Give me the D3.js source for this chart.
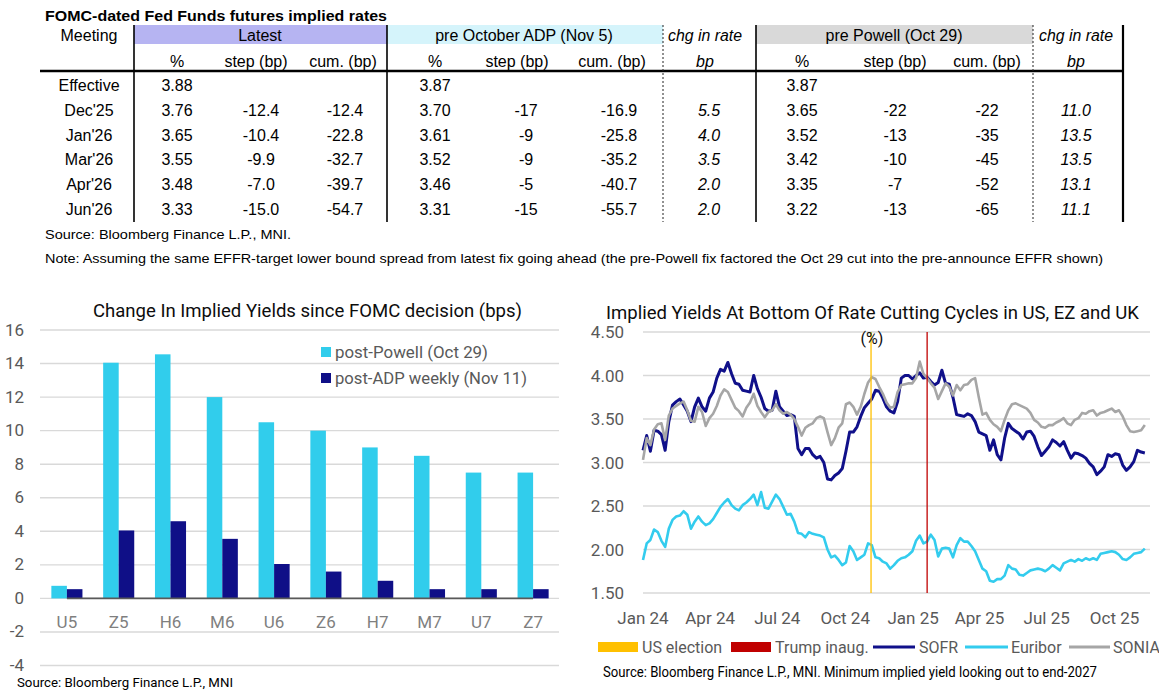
<!DOCTYPE html>
<html><head><meta charset="utf-8">
<script src="https://cdn.jsdelivr.net/npm/d3@7"></script>
<style>body{margin:0;background:#fff;} svg{display:block;}</style>
</head><body>
<svg id="c" width="1159" height="690"></svg>
<script>
// ---------------- TABLE DATA ----------------
const meetings   = ["Effective","Dec'25","Jan'26","Mar'26","Apr'26","Jun'26"];
const latestPct  = [3.88,3.76,3.65,3.55,3.48,3.33];
const latestStep = [null,-12.4,-10.4,-9.9,-7.0,-15.0];
const latestCum  = [null,-12.4,-22.8,-32.7,-39.7,-54.7];
const adpPct     = [3.87,3.70,3.61,3.52,3.46,3.31];
const adpStep    = [null,-17,-9,-9,-5,-15];
const adpCum     = [null,-16.9,-25.8,-35.2,-40.7,-55.7];
const adpChg     = [null,5.5,4.0,3.5,2.0,2.0];
const powellPct  = [3.87,3.65,3.52,3.42,3.35,3.22];
const powellStep = [null,-22,-13,-10,-7,-13];
const powellCum  = [null,-22,-35,-45,-52,-65];
const powellChg  = [null,11.0,13.5,13.5,13.1,11.1];

// ---------------- BAR CHART DATA ----------------
const barCats    = ["U5","Z5","H6","M6","U6","Z6","H7","M7","U7","Z7"];
const postPowell = [0.75,14.05,14.55,12.0,10.5,10.0,9.0,8.5,7.5,7.5];
const postADP    = [0.55,4.05,4.6,3.55,2.05,1.6,1.05,0.55,0.55,0.55];
const barTicks   = [-4,-2,0,2,4,6,8,10,12,14,16];

// ---------------- LINE CHART DATA (every 5 days from 1 Jan 2024) ----------------
const lineStart = "2024-01-01";
const lineStepDays = 5;
const sofr = [3.14,3.31,3.13,3.37,3.36,3.32,3.14,3.47,3.66,3.70,
  3.73,3.66,3.59,3.47,3.64,3.74,3.64,3.59,3.74,3.81,
  3.97,4.07,4.05,4.15,4.02,3.91,3.90,3.83,3.82,3.81,
  4.00,3.85,3.75,3.62,3.59,3.60,3.82,3.64,3.59,3.54,
  3.55,3.53,3.16,3.09,3.16,3.16,3.09,3.05,3.07,3.00,
  2.81,2.80,2.85,2.88,2.93,3.13,3.35,3.35,3.41,3.53,
  3.63,3.68,3.73,3.83,3.82,3.74,3.64,3.59,3.57,3.70,
  3.97,4.00,4.00,3.96,4.00,4.03,3.97,3.98,3.93,3.89,
  3.92,4.06,3.91,3.90,3.75,3.55,3.54,3.53,3.56,3.54,
  3.47,3.35,3.33,3.31,3.14,3.26,3.09,3.03,3.28,3.45,
  3.39,3.36,3.33,3.27,3.35,3.36,3.30,3.18,3.08,3.13,
  3.18,3.26,3.23,3.19,3.24,3.14,3.05,3.11,3.10,3.08,
  3.05,2.99,2.95,2.86,2.90,2.95,3.09,3.07,3.10,3.09,
  2.97,2.91,2.95,3.01,3.14,3.12,3.11];
const euribor = [1.88,2.07,2.11,2.23,2.20,2.10,2.03,2.24,2.34,2.38,
  2.39,2.44,2.40,2.24,2.32,2.38,2.32,2.28,2.30,2.35,
  2.42,2.49,2.54,2.58,2.51,2.47,2.45,2.51,2.54,2.58,
  2.63,2.51,2.66,2.48,2.47,2.55,2.63,2.58,2.49,2.40,
  2.41,2.32,2.19,2.18,2.14,2.20,2.18,2.17,2.16,2.14,
  2.00,1.91,1.93,1.88,1.82,1.85,2.04,1.98,1.88,1.91,
  1.94,2.07,2.05,1.91,1.90,1.86,1.84,1.78,1.82,1.87,
  1.90,1.91,1.94,1.98,2.10,2.16,2.07,2.09,2.17,2.11,
  1.92,2.01,2.02,2.01,1.91,2.05,2.13,2.09,2.09,2.04,
  1.98,1.88,1.78,1.75,1.64,1.63,1.66,1.66,1.70,1.82,
  1.78,1.77,1.71,1.70,1.73,1.76,1.77,1.78,1.77,1.75,
  1.78,1.82,1.79,1.76,1.84,1.86,1.88,1.86,1.89,1.87,
  1.90,1.88,1.90,1.88,1.95,1.96,1.97,1.98,1.97,1.94,
  1.89,1.88,1.91,1.95,1.96,1.97,2.01];
const sonia = [3.03,3.28,3.20,3.38,3.44,3.45,3.26,3.54,3.62,3.65,
  3.68,3.70,3.60,3.48,3.47,3.64,3.58,3.42,3.51,3.56,
  3.65,3.77,3.84,3.81,3.72,3.63,3.59,3.53,3.63,3.69,
  3.79,3.65,3.58,3.52,3.58,3.60,3.67,3.60,3.56,3.58,
  3.55,3.50,3.41,3.31,3.40,3.43,3.45,3.51,3.53,3.51,
  3.35,3.20,3.28,3.40,3.45,3.67,3.69,3.64,3.55,3.64,
  3.79,3.92,3.98,3.96,3.87,3.79,3.69,3.63,3.64,3.81,
  3.89,3.90,3.91,3.91,3.97,4.16,4.02,3.97,3.91,3.86,
  3.73,3.82,3.91,3.87,3.77,3.89,3.83,3.89,3.90,3.95,
  3.97,3.75,3.55,3.57,3.49,3.44,3.41,3.36,3.49,3.60,
  3.67,3.68,3.66,3.64,3.62,3.57,3.49,3.46,3.41,3.40,
  3.43,3.43,3.46,3.48,3.51,3.45,3.43,3.49,3.51,3.57,
  3.56,3.59,3.60,3.54,3.57,3.58,3.60,3.62,3.58,3.60,
  3.53,3.43,3.36,3.35,3.36,3.37,3.43];
const lineTicks = [1.5,2.0,2.5,3.0,3.5,4.0,4.5];
const events = [{label:"US election", date:"2024-11-05", color:"#FFC000"},
                {label:"Trump inaug.", date:"2025-01-20", color:"#C00000"}];

// ---------------- DRAW ----------------
const svg = d3.select("#c");
const tfont = "'Liberation Sans', Arial, sans-serif";
const cfont = "Roboto, 'Open Sans', sans-serif";

// ===== TABLE =====
const T = svg.append("g").attr("font-family", tfont).attr("fill","#000");
T.append("text").attr("x",45).attr("y",20.5).attr("font-size",15).attr("font-weight","bold")
  .attr("textLength",342).attr("lengthAdjust","spacingAndGlyphs")
  .text("FOMC-dated Fed Funds futures implied rates");

T.append("rect").attr("x",134).attr("y",25).attr("width",253).attr("height",19).attr("fill","#b6b4f2");
T.append("rect").attr("x",387).attr("y",25).attr("width",276).attr("height",19).attr("fill","#d5f4fb");
T.append("rect").attr("x",756).attr("y",25).attr("width",277).attr("height",19).attr("fill","#d9d9d9");

function txt(x,y,s,opt={}) {
  const t = T.append("text").attr("x",x).attr("y",y).attr("text-anchor",opt.anchor||"middle")
    .attr("font-size",opt.size||16).text(s);
  if (opt.italic) t.attr("font-style","italic");
  if (opt.len) t.attr("textLength",opt.len).attr("lengthAdjust","spacingAndGlyphs");
  return t;
}
// header row 1
txt(89,41,"Meeting");
txt(260,41,"Latest");
txt(524,41,"pre October ADP (Nov 5)");
txt(705,41,"chg in rate",{italic:true,len:74});
txt(894,41,"pre Powell (Oct 29)");
txt(1076,41,"chg in rate",{italic:true,len:74});
// header row 2
const h2y = 66.5;
[[177,"%"],[256,"step (bp)"],[343,"cum. (bp)"],[435,"%"],[517,"step (bp)"],[612,"cum. (bp)"],
 [802,"%"],[895,"step (bp)"],[987,"cum. (bp)"]].forEach(d=>txt(d[0],h2y,d[1]));
txt(705,h2y,"bp",{italic:true});
txt(1076,h2y,"bp",{italic:true});

const rowY = [91,116,141,165,190,215];
const f1 = d3.format(".1f"), f2 = d3.format(".2f"), f0 = d3.format(".0f");
const fm = (f)=>(v)=> v==null ? "" : f(v).replace("−","-");
const cols = [
  {x:89,  data:meetings, f:(v)=>v},
  {x:177, data:latestPct, f:fm(f2)},
  {x:261, data:latestStep, f:fm(f1)},
  {x:345, data:latestCum, f:fm(f1)},
  {x:435, data:adpPct, f:fm(f2)},
  {x:526, data:adpStep, f:fm(f0)},
  {x:619, data:adpCum, f:fm(f1)},
  {x:709, data:adpChg, f:fm(f1), italic:true},
  {x:802, data:powellPct, f:fm(f2)},
  {x:895, data:powellStep, f:fm(f0)},
  {x:987, data:powellCum, f:fm(f0)},
  {x:1076,data:powellChg, f:fm(f1), italic:true}
];
cols.forEach(c=>{
  c.data.forEach((v,i)=>{ const s=c.f(v); if(s!=="") txt(c.x,rowY[i],s,{italic:c.italic}); });
});
// table rules
T.append("line").attr("x1",40).attr("x2",1124).attr("y1",71).attr("y2",71).attr("stroke","#000").attr("stroke-width",2.5);
[134,387,756,1123].forEach(x=>T.append("line").attr("x1",x).attr("x2",x).attr("y1",25).attr("y2",222)
  .attr("stroke","#000").attr("stroke-width",x===1123?2.2:1.6));
[663,1033].forEach(x=>T.append("line").attr("x1",x).attr("x2",x).attr("y1",25).attr("y2",222)
  .attr("stroke","#222").attr("stroke-width",1).attr("stroke-dasharray","2,2"));
txt(45,239,"Source: Bloomberg Finance L.P., MNI.",{anchor:"start",size:13.5,len:246});
txt(45,263,"Note: Assuming the same  EFFR-target lower bound spread from latest fix going ahead (the pre-Powell fix factored the Oct 29 cut into the pre-announce EFFR shown)",{anchor:"start",size:13.5,len:1058});

// ===== BAR CHART =====
const B = svg.append("g").attr("font-family", cfont);
const bx = d3.scaleBand().domain(barCats).range([41,559]).paddingInner(0.4).paddingOuter(0.2);
const bsub = d3.scaleBand().domain(["powell","adp"]).range([0,bx.bandwidth()]);
const by = d3.scaleLinear().domain([-4,16]).range([665.5,330]);
const barColors = {powell:"#31cdec", adp:"#0f0f87"};

B.selectAll("line.grid").data(barTicks).join("line").attr("class","grid")
  .attr("x1",40).attr("x2",559).attr("y1",d=>by(d)).attr("y2",d=>by(d))
  .attr("stroke","#d9d9d9").attr("stroke-width",1.4);
B.selectAll("text.yl").data(barTicks).join("text").attr("class","yl")
  .attr("x",24).attr("y",d=>by(d)+5.5).attr("text-anchor","end").attr("font-size",17).attr("fill","#595959")
  .text(d=>d3.format("d")(d).replace("−","-"));

const barData = barCats.map((c,i)=>({c, powell:postPowell[i], adp:postADP[i]}));
const grp = B.selectAll("g.cat").data(barData).join("g").attr("class","cat")
  .attr("transform",d=>`translate(${bx(d.c)},0)`);
grp.selectAll("rect").data(d=>["powell","adp"].map(k=>({k, v:d[k]}))).join("rect")
  .attr("x",d=>bsub(d.k)).attr("width",bsub.bandwidth())
  .attr("y",d=>by(Math.max(0,d.v))).attr("height",d=>Math.abs(by(d.v)-by(0)))
  .attr("fill",d=>barColors[d.k]);
// horizontal axis line
B.append("line").attr("x1",bx("U5")+bx.bandwidth()/2).attr("x2",bx("Z7")+bx.bandwidth()/2)
  .attr("y1",by(0)).attr("y2",by(0)).attr("stroke","#595959").attr("stroke-width",1.8);
B.selectAll("text.xl").data(barCats).join("text").attr("class","xl")
  .attr("x",d=>bx(d)+bx.bandwidth()/2).attr("y",628).attr("text-anchor","middle")
  .attr("font-size",17).attr("fill","#7f7f7f").text(d=>d);
B.append("text").attr("x",93).attr("y",317).attr("font-size",18).attr("fill","#0d0d0d")
  .attr("textLength",429).attr("lengthAdjust","spacingAndGlyphs")
  .text("Change In Implied Yields since FOMC decision (bps)");
// legend
[["powell","post-Powell (Oct 29)",352,153],["adp","post-ADP weekly (Nov 11)",378,192]].forEach(d=>{
  B.append("rect").attr("x",321).attr("y",d[2]-5).attr("width",10).attr("height",10).attr("fill",barColors[d[0]]);
  B.append("text").attr("x",335).attr("y",d[2]+6).attr("font-size",17).attr("fill","#595959")
    .attr("textLength",d[3]).attr("lengthAdjust","spacingAndGlyphs").text(d[1]);
});
B.append("text").attr("x",17).attr("y",687).attr("font-size",13).attr("fill","#000")
  .attr("textLength",216).attr("lengthAdjust","spacingAndGlyphs").text("Source: Bloomberg Finance L.P., MNI");

// ===== LINE CHART =====
const L = svg.append("g").attr("font-family", cfont);
const parse = d3.timeParse("%Y-%m-%d");
const t0 = parse(lineStart);
const lx = d3.scaleTime().domain([t0, parse("2025-11-18")]).range([643,1150]);
const ly = d3.scaleLinear().domain([1.5,4.5]).range([593,332]);

L.selectAll("line.grid").data(lineTicks).join("line").attr("class","grid")
  .attr("x1",643).attr("x2",1150).attr("y1",d=>ly(d)).attr("y2",d=>ly(d))
  .attr("stroke","#d9d9d9").attr("stroke-width",1.4);
L.selectAll("text.yl").data(lineTicks).join("text").attr("class","yl")
  .attr("x",624).attr("y",d=>ly(d)+6).attr("text-anchor","end").attr("font-size",17).attr("fill","#595959")
  .text(d=>d3.format(".2f")(d));
const xt = d3.timeMonth.every(3).range(t0, parse("2025-11-18"));
L.selectAll("text.xl").data(xt).join("text").attr("class","xl")
  .attr("x",d=>lx(d)).attr("y",624).attr("text-anchor","middle").attr("font-size",17).attr("fill","#595959")
  .text(d=>d3.timeFormat("%b %y")(d));

const mk = arr => arr.map((v,i)=>({date:d3.timeDay.offset(t0,i*lineStepDays), v}));
const line = d3.line().x(d=>lx(d.date)).y(d=>ly(d.v)).curve(d3.curveLinear);
const series = [
  {name:"SOFR", data:mk(sofr), color:"#10108a", w:3},
  {name:"Euribor", data:mk(euribor), color:"#33ccee", w:2.6},
  {name:"SONIA", data:mk(sonia), color:"#a6a6a6", w:2.6}
];
series.forEach(s=>L.append("path").attr("d",line(s.data)).attr("fill","none")
  .attr("stroke",s.color).attr("stroke-width",s.w).attr("stroke-linejoin","round"));
events.forEach(e=>L.append("line").attr("x1",lx(parse(e.date))).attr("x2",lx(parse(e.date)))
  .attr("y1",ly(4.5)).attr("y2",ly(1.5)).attr("stroke",e.color).attr("stroke-width",1.3));

L.append("text").attr("x",606).attr("y",319).attr("font-size",18).attr("fill","#0d0d0d")
  .attr("textLength",533).attr("lengthAdjust","spacingAndGlyphs")
  .text("Implied Yields At Bottom Of Rate Cutting Cycles in US, EZ and UK");
L.append("text").attr("x",872).attr("y",344).attr("text-anchor","middle").attr("font-size",16).attr("fill","#0d0d0d").text("(%)");

// legend
const lg = [
  {type:"rect", color:"#FFC000", x0:598, x1:638, tx:642, label:"US election"},
  {type:"rect", color:"#C00000", x0:731, x1:771, tx:775, label:"Trump inaug."},
  {type:"line", color:"#10108a", x0:873, x1:915, tx:919, label:"SOFR"},
  {type:"line", color:"#33ccee", x0:965, x1:1008, tx:1011, label:"Euribor"},
  {type:"line", color:"#a6a6a6", x0:1069, x1:1110, tx:1113, label:"SONIA"}
];
lg.forEach(d=>{
  if (d.type==="rect") L.append("rect").attr("x",d.x0).attr("y",642).attr("width",d.x1-d.x0).attr("height",10).attr("fill",d.color);
  else L.append("line").attr("x1",d.x0).attr("x2",d.x1).attr("y1",647).attr("y2",647).attr("stroke",d.color).attr("stroke-width",3);
  L.append("text").attr("x",d.tx).attr("y",653).attr("font-size",16).attr("fill","#595959").text(d.label);
});
L.append("text").attr("x",603).attr("y",677).attr("font-size",14).attr("fill","#000")
  .attr("textLength",494).attr("lengthAdjust","spacingAndGlyphs")
  .text("Source: Bloomberg Finance L.P., MNI. Minimum implied yield looking out to end-2027");
</script>
</body></html>
